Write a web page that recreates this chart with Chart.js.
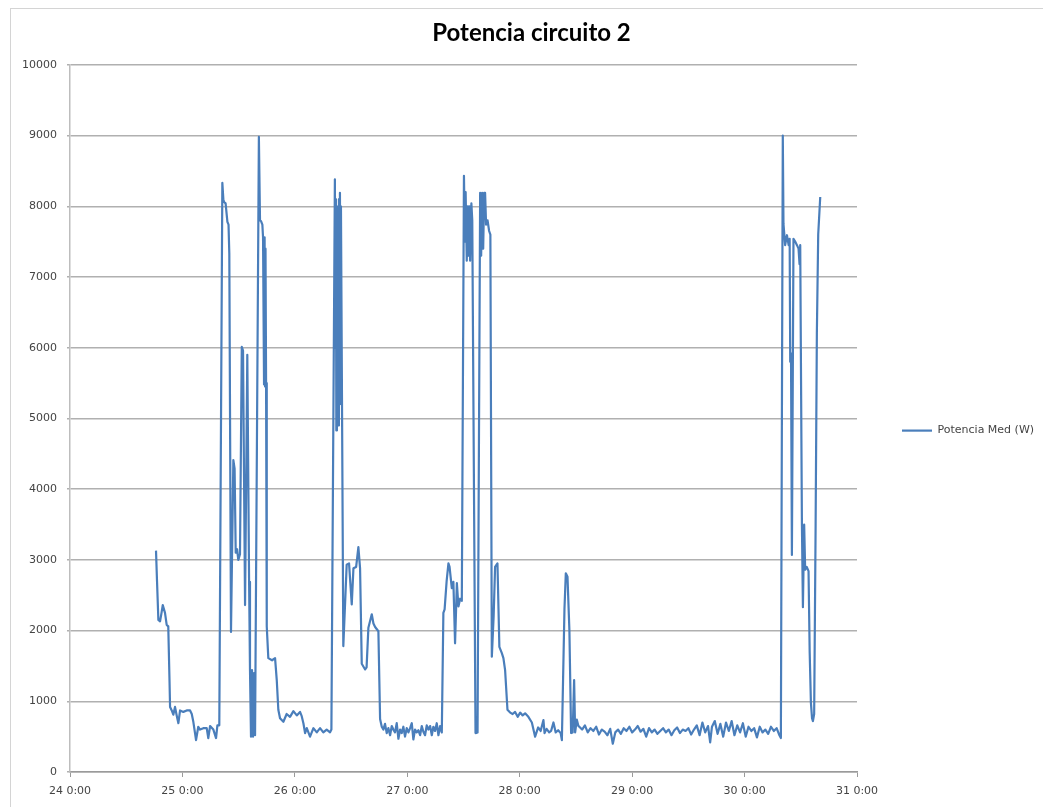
<!DOCTYPE html>
<html><head><meta charset="utf-8">
<script src="https://cdn.jsdelivr.net/npm/chart.js@4.4.0/dist/chart.umd.min.js"></script>
<style>
html,body{margin:0;padding:0;background:#fff;}
#wrap{position:relative;width:1043px;height:807px;overflow:hidden;}
#frame{position:absolute;left:10px;top:8px;right:-2px;bottom:-2px;border-left:1px solid #d4d4d4;border-top:1px solid #d4d4d4;pointer-events:none;}
canvas{position:absolute;left:0;top:0;}
</style></head><body>
<div id="wrap"><canvas id="c" width="1043" height="807" style="width:1043px;height:807px"></canvas><div id="frame"></div></div>
<script>
const chartTitle = 'Potencia circuito 2';
const seriesLabel = 'Potencia Med (W)';
const xTicks = [24, 25, 26, 27, 28, 29, 30, 31];
const yTicks = [0, 1000, 2000, 3000, 4000, 5000, 6000, 7000, 8000, 9000, 10000];

// time in days (day-of-month)
const times = [
  24.765,24.774,24.786,24.801,24.814,24.825,24.845,24.860,24.874,24.885,24.890,24.905,24.919,24.934,24.949,24.964,24.979,25.008,25.038,25.068,25.083,25.097,25.112,25.121,25.141,25.157,25.186,25.216,25.230,25.246,25.275,25.299,25.311,25.328,
  25.355,25.364,25.370,25.384,25.400,25.410,25.417,25.432,25.453,25.464,25.474,25.486,25.497,25.512,25.528,25.539,25.557,25.577,25.593,25.601,25.610,25.619,25.628,25.637,25.646,25.680,25.690,25.699,25.711,25.717,25.726,25.731,25.735,25.739,25.744,25.750,25.764,25.797,25.824,25.839,25.853,25.868,25.898,25.927,25.957,25.987,26.017,26.046,26.061,26.076,26.091,26.106,26.135,26.165,26.195,26.224,26.253,26.283,26.313,26.325,
  26.356,26.361,26.365,26.369,26.374,26.378,26.383,26.387,26.392,26.396,26.401,26.405,26.410,26.431,26.461,26.482,26.506,26.521,26.545,26.565,26.580,26.595,26.625,26.638,26.654,26.684,26.699,26.714,26.743,26.758,26.773,
  26.787,26.802,26.817,26.832,26.847,26.862,26.876,26.891,26.906,26.921,26.936,26.950,26.965,26.980,26.995,27.010,27.025,27.040,27.054,27.069,27.084,27.099,27.114,27.129,27.143,27.158,27.173,27.188,27.203,27.218,27.232,27.247,27.262,27.277,27.292,27.307,
  27.321,27.332,27.350,27.366,27.376,27.396,27.410,27.425,27.441,27.455,27.470,27.485,27.504,27.513,27.519,27.529,27.537,27.544,27.552,27.559,27.570,27.578,27.607,27.625,27.648,27.657,27.666,27.675,27.684,27.692,27.701,27.714,27.728,27.739,27.752,27.768,27.781,27.802,27.819,27.841,27.855,27.870,27.891,27.915,27.937,27.959,27.982,28.004,28.026,28.048,28.077,28.108,28.137,28.164,28.186,28.211,28.221,28.239,28.262,28.279,28.300,28.320,28.342,28.364,28.375,28.398,28.410,28.425,28.442,28.457,28.471,28.484,28.493,28.508,28.522,
  28.530,28.555,28.580,28.605,28.630,28.655,28.680,28.705,28.730,28.755,28.780,28.805,28.828,28.850,28.875,28.900,28.925,28.950,28.975,29.000,29.025,29.050,29.075,29.100,29.125,29.150,29.175,29.200,29.225,29.250,29.275,29.300,29.325,29.350,29.375,29.400,29.425,29.450,29.475,29.500,29.525,29.550,29.575,29.600,29.625,29.650,29.675,29.694,29.710,29.735,29.760,29.785,29.810,29.835,29.860,29.885,29.910,29.935,29.960,29.985,30.010,30.035,30.060,30.085,30.110,30.135,30.160,30.185,30.210,30.235,30.260,30.285,30.310,30.323,
  30.340,30.346,30.361,30.377,30.392,30.401,30.406,30.413,30.421,30.435,30.450,30.466,30.480,30.489,30.495,30.510,30.519,30.530,30.539,30.553,30.569,30.579,30.590,30.600,30.608,30.619,30.632,30.643,30.655,30.673
];

// measured power (W)
const power = [
  3130,2700,2150,2130,2250,2360,2250,2080,2060,1300,920,870,810,920,800,690,870,850,870,870,820,710,550,450,640,600,620,620,480,650,600,480,660,660,
  8330,8100,8060,8040,7780,7740,7330,1980,4410,4290,3100,3150,3000,3080,6010,5960,2360,5900,2690,1440,500,1440,500,1400,520,8980,7800,7790,7740,7560,5480,7560,5450,7400,5500,2060,1610,1580,1610,1300,880,760,710,820,780,860,800,850,790,690,550,620,500,620,560,620,560,600,560,600,
  8380,6000,8100,4830,7900,5000,8000,4900,8100,5200,8190,6500,8000,1780,2930,2950,2370,2880,2900,3180,2880,1530,1450,1480,2040,2230,2100,2050,1990,750,640,
  600,680,550,620,520,650,600,560,690,470,600,550,640,500,620,560,620,690,460,600,560,590,520,650,570,520,660,600,650,520,640,580,690,520,650,560,
  2250,2300,2700,2950,2900,2600,2690,1820,2670,2340,2450,2420,8430,7500,8200,7230,8000,7300,8000,7230,8040,7800,550,560,8190,7300,8190,7400,8190,8190,7740,7800,7650,7600,1630,2200,2900,2950,1770,1680,1610,1440,880,840,820,850,780,840,800,830,780,700,500,630,580,735,550,610,560,580,700,560,590,550,450,2300,2810,2760,2000,550,560,1300,560,740,650,
  640,600,660,560,620,580,640,530,600,570,520,610,400,560,600,540,620,580,640,560,600,650,570,610,500,620,560,600,540,580,620,560,600,520,590,630,550,600,580,620,530,600,660,520,700,560,650,420,640,720,540,680,500,700,580,720,520,660,560,690,500,640,580,620,490,640,560,600,540,640,580,620,520,480,
  9000,7750,7450,7590,7450,7540,5800,5920,3070,7540,7500,7450,7400,7180,7450,3510,2330,3500,2860,2900,2840,1700,980,760,720,820,3500,6200,7600,8130
];

const tickFont = {family: 'DejaVu Sans', size: 11};
const points = times.map((t, i) => ({x: t, y: power[i]}));

new Chart(document.getElementById('c'), {
  type: 'line',
  data: {
    datasets: [{
      label: seriesLabel,
      data: points,
      borderColor: '#4a7ebb',
      backgroundColor: '#4a7ebb',
      borderWidth: 2.2,
      pointRadius: 0,
      tension: 0,
      fill: false,
      borderJoinStyle: 'round',
      pointStyle: 'line'
    }]
  },
  options: {
    responsive: false,
    animation: false,
    devicePixelRatio: 1,
    layout: {padding: {left: 20, right: 0, top: 0, bottom: 0}},
    plugins: {
      title: {
        display: true, text: chartTitle, color: '#000',
        font: {family: 'Lato', size: 24, weight: 'bold'},
        padding: {top: 19, bottom: 17}
      },
      legend: {
        position: 'right',
        maxWidth: 186,
        title: {display: true, text: ' ', font: {size: 11}, padding: {top: 0, bottom: 41}},
        labels: {
          font: tickFont, color: '#444',
          usePointStyle: true, pointStyle: 'line', pointStyleWidth: 30, boxWidth: 30,
          padding: 45
        }
      },
      tooltip: {enabled: false}
    },
    scales: {
      x: {
        type: 'linear', min: xTicks[0], max: xTicks[xTicks.length - 1],
        afterFit: s => { s.height = 35; },
        afterBuildTicks: s => { s.ticks = xTicks.map(v => ({value: v})); },
        ticks: {callback: v => v + ' 0:00', font: tickFont, color: '#444', padding: 8, maxRotation: 0, autoSkip: false},
        grid: {drawOnChartArea: false, tickLength: 5, color: '#9a9a9a'},
        border: {color: '#9a9a9a', width: 1.5}
      },
      y: {
        min: yTicks[0], max: yTicks[yTicks.length - 1],
        afterFit: s => { s.width = 50; },
        afterBuildTicks: s => { s.ticks = yTicks.map(v => ({value: v})); },
        ticks: {callback: v => String(v), font: tickFont, color: '#444', padding: 10},
        grid: {color: '#b0b0b0', lineWidth: 1.4, tickLength: 3},
        border: {color: '#bdbdbd', width: 1.5}
      }
    }
  }
});
</script>
</body></html>
